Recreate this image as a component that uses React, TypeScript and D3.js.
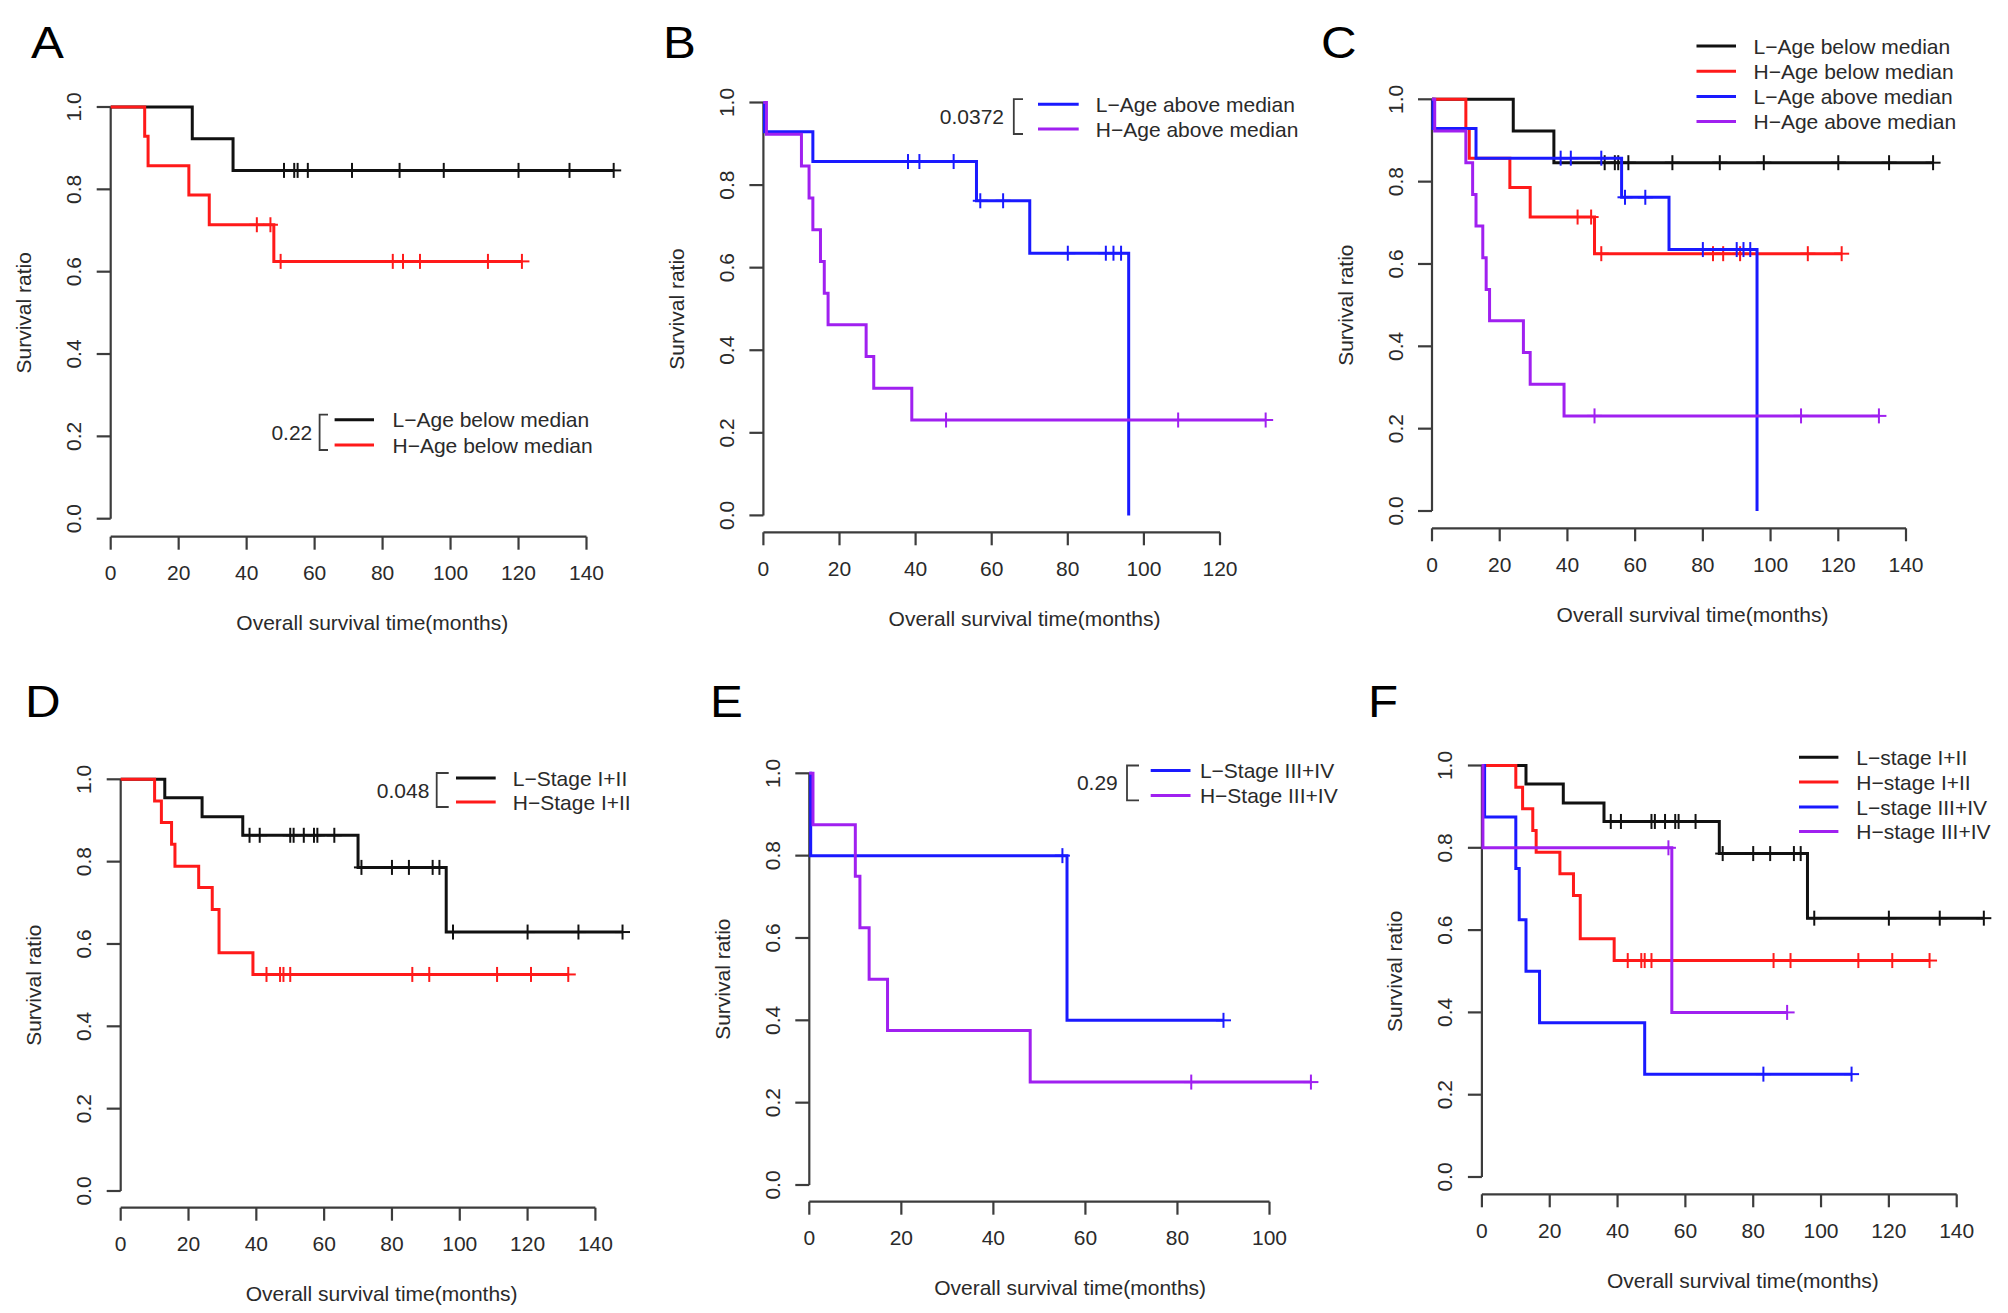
import * as d3 from "d3";

// ---------- data ----------
const yTicks = [0, 0.2, 0.4, 0.6, 0.8, 1.0];
const xTicks140 = [0, 20, 40, 60, 80, 100, 120, 140];
const xTicks120 = [0, 20, 40, 60, 80, 100, 120];
const xTicks100 = [0, 20, 40, 60, 80, 100];

// L-Age below median
const lowBelowTimes = [0, 24, 36, 148];
const lowBelowSurv = [1, 0.923, 0.846, 0.846];
const lowBelowCensor = [51, 54, 55, 58, 71, 85, 98, 120, 135, 148];

// H-Age below median
const highBelowTimes = [0, 10, 11, 23, 29, 48, 121];
const highBelowSurv = [1, 0.929, 0.857, 0.786, 0.714, 0.625, 0.625];
const highBelowCensor = [43, 47, 50, 83, 86, 91, 111, 121];

// L-Age above median
const lowAboveTimes = [0, 0.3, 13, 56, 70, 96];
const lowAboveSurv = [1, 0.929, 0.857, 0.762, 0.635, 0];
const lowAboveCensor = [38, 41, 50, 57, 63, 80, 90, 92, 94];

// H-Age above median
const highAboveTimes = [0, 0.8, 10, 12, 13, 15, 16, 17, 27, 29, 39, 132];
const highAboveSurv = [1, 0.923, 0.846, 0.769, 0.692, 0.615, 0.538, 0.462, 0.385, 0.308, 0.231, 0.231];
const highAboveCensor = [48, 109, 132];

// L-Stage I+II
const lowEarlyTimes = [0, 13, 24, 36, 70, 96, 148];
const lowEarlySurv = [1, 0.955, 0.909, 0.864, 0.786, 0.629, 0.629];
const lowEarlyCensor = [38, 41, 50, 51, 54, 57, 58, 63, 71, 80, 85, 92, 94, 98, 120, 135, 148];

// H-Stage I+II
const highEarlyTimes = [0, 10, 12, 15, 16, 23, 27, 29, 39, 132];
const highEarlySurv = [1, 0.947, 0.895, 0.842, 0.789, 0.737, 0.684, 0.579, 0.526, 0.526];
const highEarlyCensor = [43, 47, 48, 50, 86, 91, 111, 121, 132];

// L-Stage III+IV (panel E)
const lowLateTimes = [0, 0.3, 56, 90];
const lowLateSurv = [1, 0.8, 0.4, 0.4];
const lowLateCensor = [55, 90];

// H-Stage III+IV (panel E)
const highLateTimes = [0, 0.8, 10, 11, 13, 17, 48, 109];
const highLateSurv = [1, 0.875, 0.75, 0.625, 0.5, 0.375, 0.25, 0.25];
const highLateCensor = [83, 109];

// ---------- styles ----------
const FONT = "'Liberation Sans', Arial, Helvetica, sans-serif";
const BLACK = "#111111";
const RED = "#ff1a1a";
const BLUE = "#1a1aff";
const PURPLE = "#a020f0";
const AXIS = "#3c3c3c";
const TEXT = "#2a2a2a";

type Curve = { times: number[]; surv: number[]; censor: number[]; color: string };
type Legend = {
  labels: string[];
  colors: string[];
  rows: number[];
  line: [number, number];
  textX: number;
  pval?: string;
  pvalRight?: number;
  bracket?: [number, number];
};
type PanelCfg = {
  label: string;
  labelPos: [number, number];
  left: number;
  right: number;
  xMax: number;
  xTicks: number[];
  top: number;
  bottom: number;
  axisY: number;
  curves: Curve[];
  legend: Legend;
};

const panels: PanelCfg[] = [
  {
    label: "A",
    labelPos: [31, 58],
    left: 110.7,
    right: 586.5,
    xMax: 140,
    xTicks: xTicks140,
    top: 107,
    bottom: 518.7,
    axisY: 536.7,
    curves: [
      { times: lowBelowTimes, surv: lowBelowSurv, censor: lowBelowCensor, color: BLACK },
      { times: highBelowTimes, surv: highBelowSurv, censor: highBelowCensor, color: RED },
    ],
    legend: {
      labels: ["L\u2212Age below median", "H\u2212Age below median"],
      colors: [BLACK, RED],
      rows: [419.7, 445],
      line: [334.6, 374],
      textX: 392.5,
      pval: "0.22",
      pvalRight: 312.3,
      bracket: [319.6, 328],
    },
  },
  {
    label: "B",
    labelPos: [663, 58],
    left: 763.4,
    right: 1220,
    xMax: 120,
    xTicks: xTicks120,
    top: 102.5,
    bottom: 515.4,
    axisY: 532.3,
    curves: [
      { times: lowAboveTimes, surv: lowAboveSurv, censor: lowAboveCensor, color: BLUE },
      { times: highAboveTimes, surv: highAboveSurv, censor: highAboveCensor, color: PURPLE },
    ],
    legend: {
      labels: ["L\u2212Age above median", "H\u2212Age above median"],
      colors: [BLUE, PURPLE],
      rows: [104.2, 129],
      line: [1038, 1078.7],
      textX: 1095.8,
      pval: "0.0372",
      pvalRight: 1004,
      bracket: [1013.8, 1023],
    },
  },
  {
    label: "C",
    labelPos: [1321, 58],
    left: 1432,
    right: 1906,
    xMax: 140,
    xTicks: xTicks140,
    top: 99.3,
    bottom: 511,
    axisY: 528.3,
    curves: [
      { times: lowBelowTimes, surv: lowBelowSurv, censor: lowBelowCensor, color: BLACK },
      { times: highBelowTimes, surv: highBelowSurv, censor: highBelowCensor, color: RED },
      { times: lowAboveTimes, surv: lowAboveSurv, censor: lowAboveCensor, color: BLUE },
      { times: highAboveTimes, surv: highAboveSurv, censor: highAboveCensor, color: PURPLE },
    ],
    legend: {
      labels: ["L\u2212Age below median", "H\u2212Age below median", "L\u2212Age above median", "H\u2212Age above median"],
      colors: [BLACK, RED, BLUE, PURPLE],
      rows: [46, 71.2, 96.4, 121.5],
      line: [1696.5, 1736],
      textX: 1753.5,
    },
  },
  {
    label: "D",
    labelPos: [25, 717],
    left: 120.7,
    right: 595.4,
    xMax: 140,
    xTicks: xTicks140,
    top: 779.3,
    bottom: 1191,
    axisY: 1207.7,
    curves: [
      { times: lowEarlyTimes, surv: lowEarlySurv, censor: lowEarlyCensor, color: BLACK },
      { times: highEarlyTimes, surv: highEarlySurv, censor: highEarlyCensor, color: RED },
    ],
    legend: {
      labels: ["L\u2212Stage I+II", "H\u2212Stage I+II"],
      colors: [BLACK, RED],
      rows: [778, 802],
      line: [456, 495.7],
      textX: 512.8,
      pval: "0.048",
      pvalRight: 429.4,
      bracket: [436.7, 448.7],
    },
  },
  {
    label: "E",
    labelPos: [710, 717],
    left: 809.3,
    right: 1269.5,
    xMax: 100,
    xTicks: xTicks100,
    top: 773.3,
    bottom: 1185,
    axisY: 1201.7,
    curves: [
      { times: lowLateTimes, surv: lowLateSurv, censor: lowLateCensor, color: BLUE },
      { times: highLateTimes, surv: highLateSurv, censor: highLateCensor, color: PURPLE },
    ],
    legend: {
      labels: ["L\u2212Stage III+IV", "H\u2212Stage III+IV"],
      colors: [BLUE, PURPLE],
      rows: [770.5, 795.4],
      line: [1150.7, 1190.5],
      textX: 1199.9,
      pval: "0.29",
      pvalRight: 1117.8,
      bracket: [1127, 1139],
    },
  },
  {
    label: "F",
    labelPos: [1368, 717],
    left: 1481.9,
    right: 1956.7,
    xMax: 140,
    xTicks: xTicks140,
    top: 765.5,
    bottom: 1177,
    axisY: 1194.3,
    curves: [
      { times: lowEarlyTimes, surv: lowEarlySurv, censor: lowEarlyCensor, color: BLACK },
      { times: highEarlyTimes, surv: highEarlySurv, censor: highEarlyCensor, color: RED },
      { times: highLateTimes, surv: highLateSurv, censor: highLateCensor, color: BLUE },
      { times: lowLateTimes, surv: lowLateSurv, censor: lowLateCensor, color: PURPLE },
    ],
    legend: {
      labels: ["L\u2212stage I+II", "H\u2212stage I+II", "L\u2212stage III+IV", "H\u2212stage III+IV"],
      colors: [BLACK, RED, BLUE, PURPLE],
      rows: [757.3, 782, 807, 831.5],
      line: [1799, 1838.4],
      textX: 1856.3,
    },
  },
];

// survival value in effect at time t (step function lookup)
const survAt = (c: Curve, t: number) => {
  const i = d3.bisectRight(c.times, t) - 1;
  return c.surv[Math.max(0, i)];
};

const Panel = ({ cfg }: { cfg: PanelCfg }) => {
  const x = d3.scaleLinear().domain([0, cfg.xMax]).range([cfg.left, cfg.right]);
  const y = d3.scaleLinear().domain([0, 1]).range([cfg.bottom, cfg.top]);

  const line = d3
    .line<[number, number]>()
    .x((d) => x(d[0]))
    .y((d) => y(d[1]))
    .curve(d3.curveStepAfter);

  // R centres the x label on the plot region (max time + 4%)
  const maxT = d3.max(cfg.curves.flatMap((c) => [...c.times, ...c.censor])) as number;
  const xTitleX = x((maxT * 1.04) / 2);
  const fs = 21;
  const tick = 7.5;

  return (
    <g>
      <text
        x={0}
        y={0}
        transform={`translate(${cfg.labelPos[0]},${cfg.labelPos[1]}) scale(1.12,1)`}
        fontSize={44}
        fill="#000"
      >
        {cfg.label}
      </text>

      {/* y axis */}
      <line x1={cfg.left} x2={cfg.left} y1={y(0)} y2={y(1)} stroke={AXIS} strokeWidth={2.2} />
      {yTicks.map((t) => (
        <g key={t}>
          <line x1={cfg.left - 14} x2={cfg.left} y1={y(t)} y2={y(t)} stroke={AXIS} strokeWidth={2.2} />
          <text
            transform={`translate(${cfg.left - 37},${y(t)}) rotate(-90)`}
            textAnchor="middle"
            dominantBaseline="central"
            fontSize={fs}
            fill={TEXT}
          >
            {d3.format(".1f")(t)}
          </text>
        </g>
      ))}
      <text
        transform={`translate(${cfg.left - 87},${y(0.5)}) rotate(-90)`}
        textAnchor="middle"
        dominantBaseline="central"
        fontSize={fs}
        fill={TEXT}
      >
        Survival ratio
      </text>

      {/* x axis */}
      <line x1={x(0)} x2={x(cfg.xMax)} y1={cfg.axisY} y2={cfg.axisY} stroke={AXIS} strokeWidth={2.2} />
      {cfg.xTicks.map((t) => (
        <g key={t}>
          <line x1={x(t)} x2={x(t)} y1={cfg.axisY} y2={cfg.axisY + 13} stroke={AXIS} strokeWidth={2.2} />
          <text x={x(t)} y={cfg.axisY + 36} textAnchor="middle" dominantBaseline="central" fontSize={fs} fill={TEXT}>
            {t}
          </text>
        </g>
      ))}
      <text x={xTitleX} y={cfg.axisY + 86} textAnchor="middle" dominantBaseline="central" fontSize={fs} fill={TEXT}>
        Overall survival time(months)
      </text>

      {/* curves */}
      {cfg.curves.map((c, i) => (
        <g key={i}>
          <path
            d={line(c.times.map((t, j) => [t, c.surv[j]] as [number, number])) ?? ""}
            fill="none"
            stroke={c.color}
            strokeWidth={3}
          />
          {c.censor.map((t, j) => {
            const cx = x(t);
            const cy = y(survAt(c, t));
            return (
              <g key={j} stroke={c.color} strokeWidth={2}>
                <line x1={cx} x2={cx} y1={cy - tick} y2={cy + tick} />
                <line x1={cx - tick} x2={cx + tick} y1={cy} y2={cy} />
              </g>
            );
          })}
        </g>
      ))}

      {/* legend */}
      {cfg.legend.labels.map((lab, i) => (
        <g key={lab}>
          <line
            x1={cfg.legend.line[0]}
            x2={cfg.legend.line[1]}
            y1={cfg.legend.rows[i]}
            y2={cfg.legend.rows[i]}
            stroke={cfg.legend.colors[i]}
            strokeWidth={3}
          />
          <text x={cfg.legend.textX} y={cfg.legend.rows[i]} dominantBaseline="central" fontSize={fs} fill={TEXT}>
            {lab}
          </text>
        </g>
      ))}
      {cfg.legend.bracket && (
        <g>
          <path
            d={`M${cfg.legend.bracket[1]},${cfg.legend.rows[0] - 5}H${cfg.legend.bracket[0]}V${
              cfg.legend.rows[1] + 5
            }H${cfg.legend.bracket[1]}`}
            fill="none"
            stroke={AXIS}
            strokeWidth={1.8}
          />
          <text
            x={cfg.legend.pvalRight}
            y={(cfg.legend.rows[0] + cfg.legend.rows[1]) / 2}
            textAnchor="end"
            dominantBaseline="central"
            fontSize={fs}
            fill={TEXT}
          >
            {cfg.legend.pval}
          </text>
        </g>
      )}
    </g>
  );
};

export default function App() {
  return (
    <svg
      width={2008}
      height={1313}
      viewBox="0 0 2008 1313"
      style={{ position: "absolute", left: 0, top: 0, display: "block", background: "#fff" }}
      fontFamily={FONT}
    >
      <rect width={2008} height={1313} fill="#fff" />
      {panels.map((p) => (
        <Panel key={p.label} cfg={p} />
      ))}
    </svg>
  );
}
